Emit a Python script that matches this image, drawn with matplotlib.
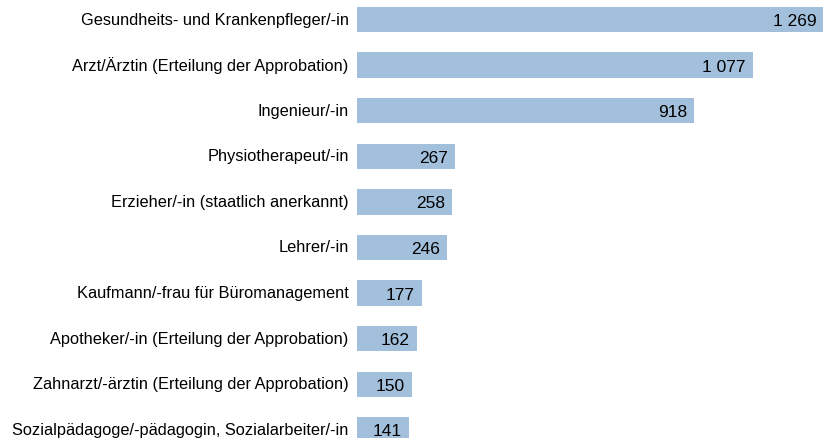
import matplotlib
matplotlib.use('Agg')
import matplotlib.pyplot as plt
from matplotlib.transforms import offset_copy, ScaledTranslation

plt.rcParams['font.family'] = ['Liberation Sans', 'DejaVu Sans']

# Berufe und Anzahl
berufe = [
    "Gesundheits- und Krankenpfleger/-in",
    "Arzt/Ärztin (Erteilung der Approbation)",
    "Ingenieur/-in",
    "Physiotherapeut/-in",
    "Erzieher/-in (staatlich anerkannt)",
    "Lehrer/-in",
    "Kaufmann/-frau für Büromanagement",
    "Apotheker/-in (Erteilung der Approbation)",
    "Zahnarzt/-ärztin (Erteilung der Approbation)",
    "Sozialpädagoge/-pädagogin, Sozialarbeiter/-in",
]
anzahl = [1269, 1077, 918, 267, 258, 246, 177, 162, 150, 141]

W, H = 824, 439
fig = plt.figure(figsize=(W / 100, H / 100), dpi=100)
ax = fig.add_axes([357 / W, 0, 1 - 357 / W, 1])

pos = list(range(len(berufe)))
ax.barh(pos, anzahl, height=0.56, color='#a2bfdb')

# Zeilenabstand ~45.6 px, erste Zeile bei ~20.5 px
ax.set_ylim((H - 20.5) / 45.6, -20.5 / 45.6)
ax.set_xlim(0, 1271)

ax.set_yticks(pos)
ax.set_yticklabels(berufe, fontsize=11.8)
ax.tick_params(axis='y', length=0, pad=6)
ax.set_xticks([])
for s in ax.spines.values():
    s.set_visible(False)

# Beschriftungen etwas nach oben schieben
shift = ScaledTranslation(0, 2 / 100, fig.dpi_scale_trans)
for lab in ax.get_yticklabels():
    lab.set_transform(lab.get_transform() + shift)

trans = offset_copy(ax.transData, fig=fig, x=-7, y=-1, units='dots')
for p, v in zip(pos, anzahl):
    txt = f"{v:,}".replace(",", " ")
    ax.text(v, p, txt, transform=trans, ha='right', va='center',
            fontsize=12.5, color='black')

fig.savefig('out.png', dpi=100)
